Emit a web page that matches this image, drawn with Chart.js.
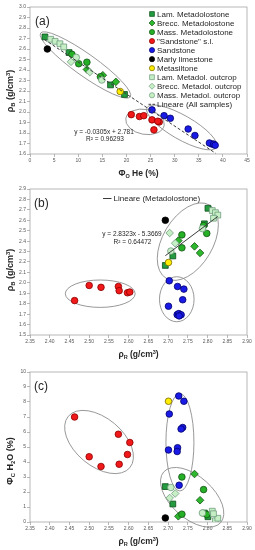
<!DOCTYPE html>
<html>
<head>
<meta charset="utf-8">
<script src="https://cdn.jsdelivr.net/npm/chart.js@4.4.1/dist/chart.umd.min.js"></script>
<style>
  body { margin: 0; background: #fff; }
  #wrap { position: relative; width: 255px; height: 550px; }
  canvas { position: absolute; left: 0; }
</style>
</head>
<body>
<div id="wrap">
  <canvas id="chartA" width="255" height="182" style="top:0"></canvas>
  <canvas id="chartB" width="255" height="183" style="top:182px"></canvas>
  <canvas id="chartC" width="255" height="185" style="top:365px"></canvas>
</div>
<script>
/* ── Data: one entry per sample, same index across the arrays of a group ── */
var lamRhoR = [2.801, 2.792, 2.712, 2.693];
var lamRhoB = [2.715, 2.566, 2.258, 2.167];
var lamPhiO = [3.1, 8.1, 16.7, 19.6];
var lamPhiC = [0.35, 0.6, 1.2, 2.36];

var breccRhoR = [2.726, 2.767, 2.781];
var breccRhoB = [2.405, 2.350, 2.287];
var breccPhiO = [11.8, 15.1, 17.8];
var breccPhiC = [0.38, 3.2, 1.45];

var massRhoR = [2.790, 2.735, 2.798, 2.735];
var massRhoB = [2.549, 2.460, 2.474, 2.336];
var massPhiO = [8.7, 10.1, 11.8, 14.6];
var massPhiC = [2.16, 3.0, 0.5, 0.52];

var sandSlRhoR = [2.463, 2.500, 2.530, 2.574, 2.576, 2.597, 2.603];
var sandSlRhoB = [1.830, 1.975, 1.957, 1.965, 1.925, 1.905, 1.912];
var sandSlPhiO = [25.7, 21.0, 22.7, 23.6, 25.3, 26.8, 26.5];
var sandSlPhiC = [7.0, 4.35, 3.7, 5.85, 3.85, 4.5, 5.3];

var sandRhoR = [2.703, 2.724, 2.740, 2.737, 2.701, 2.723, 2.727, 2.733, 2.728];
var sandRhoB = [2.020, 1.965, 1.940, 1.838, 1.776, 1.695, 1.705, 1.694, 1.683];
var sandPhiO = [25.3, 27.8, 29.1, 32.8, 34.2, 37.7, 37.2, 38.1, 38.4];
var sandPhiC = [7.2, 4.95, 8.05, 6.3, 4.8, 4.7, 8.4, 6.2, 2.45];

var marlyRhoR = [2.693];
var marlyRhoB = [2.600];
var marlyPhiO = [3.6];
var marlyPhiC = [0.27];

var siltRhoR = [2.701];
var siltRhoB = [2.195];
var siltPhiO = [18.7];
var siltPhiC = [8.05];

var lamOutRhoR = [2.812, 2.820, 2.826, 2.815];
var lamOutRhoB = [2.693, 2.673, 2.650, 2.620];
var lamOutPhiO = [4.3, 5.2, 6.2, 7.0];
var lamOutPhiC = [0.72, 0.08, 0.25, 0.55];

var breccOutRhoR = [2.704, 2.718];
var breccOutRhoB = [2.478, 2.380];
var breccOutPhiO = [8.5, 12.4];
var breccOutPhiC = [1.6, 1.9];

var massOutRhoR = [2.787, 2.707];
var massOutRhoB = [2.520, 2.305];
var massOutPhiO = [9.6, 14.9];
var massOutPhiC = [0.6, 2.3];

var groupLabels = ['Lam. Metadolostone', 'Brecc. Metadolostone', 'Mass. Metadolostone',
  '"Sandstone" s.l.', 'Sandstone', 'Marly limestone', 'Metasiltone',
  'Lam. Metadol. outcrop', 'Brecc. Metadol. outcrop', 'Mass. Metadol. outcrop'];

// trend lines as printed on the chart
var fitAllSlope = -0.0305, fitAllIntercept = 2.781, fitAllRange = [3.0, 38.5];
var fitMetaSlope = 2.8323, fitMetaIntercept = -5.3669, fitMetaRange = [2.693, 2.826];

// tick labels
var phiOTicks = [0, 5, 10, 15, 20, 25, 30, 35, 40, 45];
var rhoBTicksA = [1.6, 1.7, 1.8, 1.9, 2.0, 2.1, 2.2, 2.3, 2.4, 2.5, 2.6, 2.7, 2.8, 2.9, 3.0];
var rhoRTicks = [2.35, 2.40, 2.45, 2.50, 2.55, 2.60, 2.65, 2.70, 2.75, 2.80, 2.85, 2.90];
var rhoBTicksB = [1.5, 1.6, 1.7, 1.8, 1.9, 2.0, 2.1, 2.2, 2.3, 2.4, 2.5, 2.6, 2.7, 2.8, 2.9];
var phiCTicks = [0, 1, 2, 3, 4, 5, 6, 7, 8, 9, 10];

/* ── Styling ── */
var FONT = '"Liberation Sans", Arial, sans-serif';
var TEXT = '#262626';
var OUTCROP = '#c6efc6', OUTCROP_EDGE = '#6f9c7c';
var groupStyles = [
  { shape: 'rect',    fill: '#239b3e', border: '#0d4f1c' },
  { shape: 'diamond', fill: '#2eb82e', border: '#145214' },
  { shape: 'circle',  fill: '#25b025', border: '#145214' },
  { shape: 'circle',  fill: '#f01818', border: '#8b0000' },
  { shape: 'circle',  fill: '#1a1ae6', border: '#00006b' },
  { shape: 'circle',  fill: '#000000', border: '#000000' },
  { shape: 'circle',  fill: '#ffed00', border: '#7a6a00' },
  { shape: 'rect',    fill: OUTCROP, border: OUTCROP_EDGE },
  { shape: 'diamond', fill: OUTCROP, border: OUTCROP_EDGE },
  { shape: 'circle',  fill: OUTCROP, border: OUTCROP_EDGE }
];

// outline ellipses: centre + major-axis tip in data units, minor half-axis in px
var ellipsesA = [
  { cx: 11.5, cy: 2.448, ex: 2.2, ey: 2.752, w: 11 },
  { cx: 23.85, cy: 1.906, ex: 27.83, ey: 1.873, w: 12.5 },
  { cx: 31.46, cy: 1.853, ex: 24.27, ey: 2.042, w: 12 }
];
var ellipsesB = [
  { cx: 2.750, cy: 2.395, ex: 2.805, ey: 2.746, w: 25 },
  { cx: 2.528, cy: 1.896, ex: 2.6165, ey: 1.896, w: 13.7 },
  { cx: 2.722, cy: 1.843, ex: 2.722, ey: 2.059, w: 17.3 }
];
var ellipsesC = [
  { cx: 2.525, cy: 5.333, ex: 2.603, ey: 3.62, w: 24 },
  { cx: 2.730, cy: 5.313, ex: 2.730, ey: 8.56, w: 14 },
  { cx: 2.761, cy: 1.647, ex: 2.833, ey: -0.047, w: 21 }
];

/* ── Helpers ── */
function pairs(xs, ys) {
  return xs.map(function (x, i) { return { x: x, y: ys[i] }; });
}

function fitLine(slope, icpt, range) {
  return range.map(function (x) { return { x: x, y: slope * x + icpt }; });
}

function groupDatasets(xArrs, yArrs) {
  return groupLabels.map(function (label, i) {
    var st = groupStyles[i];
    return {
      label: label,
      data: pairs(xArrs[i], yArrs[i]),
      pointStyle: st.shape === 'diamond' ? 'rectRot' : st.shape,
      pointRadius: st.shape === 'rect' ? 4.1 : (st.shape === 'diamond' ? 3.8 : 3.3),
      pointBackgroundColor: st.fill,
      pointBorderColor: st.border,
      pointBorderWidth: 0.8,
      order: 20 - i
    };
  });
}

function axis(ticksArr, digits, fit) {
  return {
    type: 'linear',
    min: ticksArr[0],
    max: ticksArr[ticksArr.length - 1],
    afterBuildTicks: function (s) {
      s.ticks = ticksArr.map(function (v) { return { value: v }; });
    },
    afterFit: fit,
    ticks: {
      font: { size: 5, family: FONT }, color: '#595959', padding: 1,
      autoSkip: false, maxRotation: 0,
      callback: function (v) { return Number(v).toFixed(digits); }
    },
    grid: { drawOnChartArea: false, drawTicks: true, tickLength: 3, color: '#a6a6a6', lineWidth: 0.8 },
    border: { display: false }
  };
}

function runsWidth(ctx, runs, size, weight) {
  var w = 0;
  runs.forEach(function (r) {
    var s = (r.sub || r.sup) ? size * 0.65 : size;
    ctx.font = weight + ' ' + s + 'px ' + FONT;
    w += ctx.measureText(r.t).width;
  });
  return w;
}

// centred text with sub/superscripts, optionally rotated
function drawRuns(ctx, runs, cx, cy, size, weight, rotate) {
  ctx.save();
  ctx.translate(cx, cy);
  if (rotate) ctx.rotate(-Math.PI / 2);
  ctx.fillStyle = TEXT;
  ctx.textBaseline = 'alphabetic';
  ctx.textAlign = 'left';
  var x = -runsWidth(ctx, runs, size, weight) / 2;
  var base = size * 0.35;
  runs.forEach(function (r) {
    var s = (r.sub || r.sup) ? size * 0.65 : size;
    var dy = r.sub ? size * 0.25 : (r.sup ? -size * 0.35 : 0);
    ctx.font = weight + ' ' + s + 'px ' + FONT;
    ctx.fillText(r.t, x, base + dy);
    x += ctx.measureText(r.t).width;
  });
  ctx.restore();
}

function drawMarker(ctx, st, x, y, r) {
  ctx.beginPath();
  if (st.shape === 'circle') {
    ctx.arc(x, y, r, 0, Math.PI * 2);
  } else if (st.shape === 'rect') {
    var s = r * Math.SQRT1_2;
    ctx.rect(x - s, y - s, 2 * s, 2 * s);
  } else {
    ctx.moveTo(x - r, y); ctx.lineTo(x, y - r);
    ctx.lineTo(x + r, y); ctx.lineTo(x, y + r); ctx.closePath();
  }
  ctx.fillStyle = st.fill; ctx.fill();
  ctx.lineWidth = 0.7; ctx.strokeStyle = st.border; ctx.stroke();
}

/* ── Per-panel decoration plugin: frame, ellipses, titles, legend ── */
function decor(cfg) {
  return {
    id: 'decor',
    beforeDatasetsDraw: function (chart) {
      var ctx = chart.ctx, a = chart.chartArea;
      var xs = chart.scales.x, ys = chart.scales.y;
      ctx.save();
      ctx.strokeStyle = '#a6a6a6'; ctx.lineWidth = 0.8;
      ctx.strokeRect(a.left, a.top, a.right - a.left, a.bottom - a.top);
      ctx.strokeStyle = '#8c8c8c'; ctx.lineWidth = 0.9;
      cfg.ellipses.forEach(function (e) {
        var cx = xs.getPixelForValue(e.cx), cy = ys.getPixelForValue(e.cy);
        var ex = xs.getPixelForValue(e.ex), ey = ys.getPixelForValue(e.ey);
        var ang = Math.atan2(ey - cy, ex - cx);
        ctx.beginPath();
        ctx.ellipse(cx, cy, Math.hypot(ex - cx, ey - cy), e.w, ang, 0, Math.PI * 2);
        ctx.stroke();
      });
      ctx.restore();
    },
    afterDraw: function (chart) {
      var ctx = chart.ctx;
      ctx.save();
      ctx.fillStyle = TEXT;
      ctx.font = '12px ' + FONT;
      ctx.textBaseline = 'alphabetic';
      ctx.fillText(cfg.panel, cfg.panelPos[0], cfg.panelPos[1]);

      drawRuns(ctx, cfg.xTitle, 138.5, cfg.xTitleY, 8.5, 'bold', false);
      drawRuns(ctx, cfg.yTitle, 10, cfg.yTitleY, 9, 'bold', true);

      ctx.font = '6.5px ' + FONT;
      ctx.textAlign = 'center';
      ctx.fillStyle = TEXT;
      (cfg.equation || []).forEach(function (line) {
        ctx.fillText(line.t, line.x, line.y);
      });

      ctx.textAlign = 'left';
      ctx.textBaseline = 'middle';
      ctx.font = '8px ' + FONT;
      var lg = cfg.legend;
      if (lg) {
        var y = lg.y;
        if (lg.groups) {
          groupLabels.forEach(function (label, i) {
            var st = groupStyles[i];
            drawMarker(ctx, st, lg.mx, y, st.shape === 'rect' ? 3.4 : (st.shape === 'diamond' ? 3 : 2.6));
            ctx.fillStyle = TEXT;
            ctx.fillText(label, lg.tx, y + 0.5);
            y += lg.step;
          });
        }
        ctx.strokeStyle = '#3a3a3a'; ctx.lineWidth = 1;
        ctx.setLineDash(lg.dash || []);
        ctx.beginPath(); ctx.moveTo(lg.lx[0], y); ctx.lineTo(lg.lx[1], y); ctx.stroke();
        ctx.setLineDash([]);
        ctx.fillStyle = TEXT;
        ctx.fillText(lg.lineLabel, lg.tx, y + 0.5);
      }
      ctx.restore();
    }
  };
}

function makeChart(id, datasets, xAxis, yAxis, cfg) {
  return new Chart(document.getElementById(id), {
    type: 'scatter',
    data: { datasets: datasets },
    options: {
      responsive: false,
      animation: false,
      devicePixelRatio: 1,
      events: [],
      layout: { padding: { left: 0, right: 8, top: 7, bottom: 0 } },
      plugins: { legend: { display: false }, tooltip: { enabled: false } },
      scales: { x: xAxis, y: yAxis }
    },
    plugins: [decor(cfg)]
  });
}

function yFit(s) { s.width = 30; }

var rhoTitle = function (sub) {
  return [{ t: '\u03C1' }, { t: sub, sub: true }, { t: ' (g/cm' }, { t: '3', sup: true }, { t: ')' }];
};

/* ── (a) ΦO vs ρB ── */
var dsA = groupDatasets(
  [lamPhiO, breccPhiO, massPhiO, sandSlPhiO, sandPhiO, marlyPhiO, siltPhiO, lamOutPhiO, breccOutPhiO, massOutPhiO],
  [lamRhoB, breccRhoB, massRhoB, sandSlRhoB, sandRhoB, marlyRhoB, siltRhoB, lamOutRhoB, breccOutRhoB, massOutRhoB]
);
dsA.push({
  label: 'Lineare (All samples)', data: fitLine(fitAllSlope, fitAllIntercept, fitAllRange),
  showLine: true, borderColor: '#3a3a3a', borderWidth: 1, borderDash: [3, 2], pointRadius: 0, order: 0
});
makeChart('chartA', dsA,
  axis(phiOTicks, 0, function (s) { s.height = 28; }),
  axis(rhoBTicksA, 1, yFit),
  {
    panel: '(a)', panelPos: [35, 24.5],
    xTitle: [{ t: '\u03A6' }, { t: 'O', sub: true }, { t: ' He (%)' }], xTitleY: 173,
    yTitle: rhoTitle('B'), yTitleY: 91,
    ellipses: ellipsesA,
    equation: [{ t: 'y = -0.0305x + 2.781', x: 104, y: 133.5 }, { t: 'R\u00B2 = 0.96293', x: 105, y: 141 }],
    legend: { groups: true, y: 14, step: 9.03, mx: 152, tx: 157, lx: [148.5, 156], dash: [2.5, 1.5],
      lineLabel: 'Lineare (All samples)' }
  });

/* ── (b) ρR vs ρB ── */
var dsB = groupDatasets(
  [lamRhoR, breccRhoR, massRhoR, sandSlRhoR, sandRhoR, marlyRhoR, siltRhoR, lamOutRhoR, breccOutRhoR, massOutRhoR],
  [lamRhoB, breccRhoB, massRhoB, sandSlRhoB, sandRhoB, marlyRhoB, siltRhoB, lamOutRhoB, breccOutRhoB, massOutRhoB]
);
dsB.push({
  label: 'Lineare (Metadolostone)', data: fitLine(fitMetaSlope, fitMetaIntercept, fitMetaRange),
  showLine: true, borderColor: '#3a3a3a', borderWidth: 1, pointRadius: 0, order: 0
});
makeChart('chartB', dsB,
  axis(rhoRTicks, 2, function (s) { s.height = 30; }),
  axis(rhoBTicksB, 1, yFit),
  {
    panel: '(b)', panelPos: [34, 24.5],
    xTitle: rhoTitle('R'), xTitleY: 172,
    yTitle: rhoTitle('B'), yTitleY: 88,
    ellipses: ellipsesB,
    equation: [{ t: 'y = 2.8323x - 5.3669', x: 132, y: 53.6 }, { t: 'R\u00B2 = 0.64472', x: 132.5, y: 62 }],
    legend: { groups: false, y: 16.5, tx: 113.5, lx: [103, 111.5], lineLabel: 'Lineare (Metadolostone)' }
  });

/* ── (c) ρR vs ΦC ── */
var dsC = groupDatasets(
  [lamRhoR, breccRhoR, massRhoR, sandSlRhoR, sandRhoR, marlyRhoR, siltRhoR, lamOutRhoR, breccOutRhoR, massOutRhoR],
  [lamPhiC, breccPhiC, massPhiC, sandSlPhiC, sandPhiC, marlyPhiC, siltPhiC, lamOutPhiC, breccOutPhiC, massOutPhiC]
);
makeChart('chartC', dsC,
  axis(rhoRTicks, 2, function (s) { s.height = 28; }),
  axis(phiCTicks, 0, yFit),
  {
    panel: '(c)', panelPos: [34, 24.5],
    xTitle: rhoTitle('R'), xTitleY: 176,
    yTitle: [{ t: '\u03A6' }, { t: 'C', sub: true }, { t: ' H' }, { t: '2', sub: true }, { t: 'O (%)' }], yTitleY: 96,
    ellipses: ellipsesC,
    equation: [],
    legend: null
  });
</script>
</body>
</html>
